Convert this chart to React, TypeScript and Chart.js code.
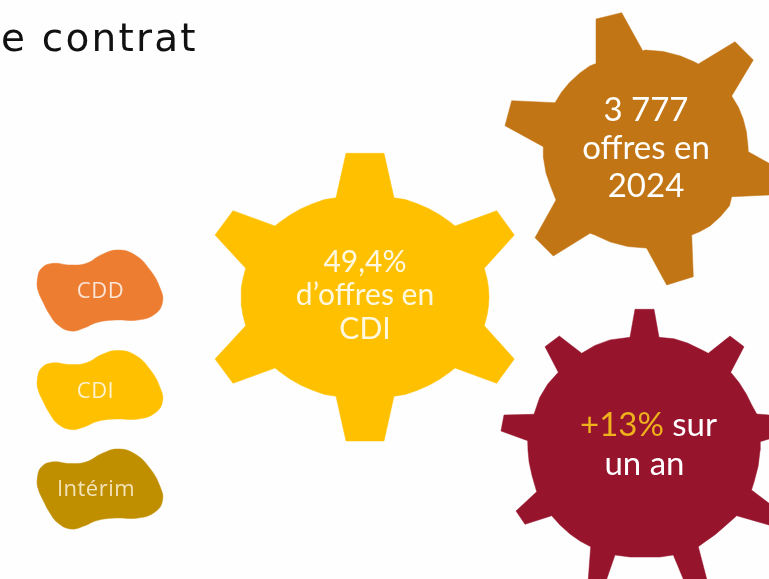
import React, { useEffect, useRef } from "react";
import { Chart, registerables } from "chart.js";

Chart.register(...registerables);

const WIDTH = 769;
const HEIGHT = 579;

type P = [number, number];

const yellowGear: P[] = [
  [346, 153.3], [384, 153.3], [394, 197.8], [405.4, 199.6], [417.4, 203.7], [428.9, 208.7], [439.6, 214.7], [449.6, 221.7], [455, 226],
  [496.7, 210.7], [514.3, 235], [484.3, 268.3], [487.1, 279.1], [488.5, 288], [489, 297], [488.5, 306], [487.1, 314.9], [484.3, 325.7],
  [514.3, 359], [496.7, 383.3], [455, 368], [449.6, 372.3], [439.6, 379.3], [428.9, 385.3], [417.4, 390.3], [405.4, 394.4], [394, 396.2],
  [384, 441], [346, 441], [336, 396.2], [324.6, 394.4], [312.6, 390.3], [301.1, 385.3], [290.4, 379.3], [280.4, 372.3], [275, 368],
  [233, 383.3], [215, 359], [245.7, 325.7], [242.9, 314.9], [241.5, 306], [241, 297], [241.5, 288], [242.9, 279.1], [245.7, 268.3],
  [215, 235], [233, 210.7], [275, 226], [280.4, 221.7], [290.4, 214.7], [301.1, 208.7], [312.6, 203.7], [324.6, 199.6], [336, 197.8], [346, 153.3],
];

const brownGear: P[] = [
  [596, 19], [621.7, 12.7], [642.7, 50.7], [645.5, 50], [663.3, 51.5], [680.6, 56], [693.6, 61.6], [698.3, 64], [735, 41.7],
  [753.3, 60], [731.7, 96], [738.4, 107.2], [743, 118.4], [746.4, 131.8], [747.9, 145.5], [748.3, 151.7], [769, 163.3], [769, 195],
  [731.7, 196.7], [729.5, 205.8], [720.5, 216.5], [710, 226], [700, 231.5], [691.7, 235], [693.3, 276.7], [666.7, 285],
  [646.7, 248.3], [645.5, 248], [627.7, 246.5], [610.4, 242], [594.3, 234.7], [590, 233.3], [553.3, 256], [535, 237.7], [556, 200],
  [550.5, 186], [546, 173], [543.4, 157.6], [543.3, 146.7], [505, 125.7], [511.7, 100.7], [555, 102.7], [561.5, 92.2],
  [569.3, 82.8], [579.6, 73.2], [589.7, 66], [596.7, 63.3], [596, 19],
];

const crimsonGear: P[] = [
  [635, 309.3], [654, 309.3], [659, 337.3], [674, 338.8], [687.5, 343], [702, 350], [708.3, 353.3], [730, 336], [744, 346.7], [730.7, 372.3],
  [739, 382.5], [746.4, 394.2], [751.6, 404.7], [756.7, 414], [769, 415], [769, 439], [760, 441.7], [760, 450.4], [758.2, 465.9], [754.3, 481],
  [751.5, 490], [769, 503.3], [769, 525], [736.7, 515.7], [727.4, 524], [715.4, 534.4], [704, 542.5], [698.3, 546.7], [706.7, 579], [683.3, 579],
  [673.3, 555], [660, 557], [645.7, 557], [630, 557], [615, 555], [606.7, 579], [588.3, 579], [590.7, 546.7], [580, 541], [570, 534], [560, 525], [551.7, 515.7],
  [525, 524.3], [516, 511], [536.7, 491.7], [532, 475.4], [529.1, 462], [528, 450.4], [527.7, 440.7], [501, 431], [504, 415], [534, 414.3],
  [539.7, 397.6], [547.8, 384], [558.3, 372.3], [545, 346.7], [559.3, 336], [581.7, 353.3], [595, 345.4], [610, 339.9], [630, 337.3], [635, 309.3],
];

const cddBlob: P[] = [
  [37.5, 280], [41, 269], [52, 263.5], [70, 265], [86, 263.5], [102, 254.5], [118, 250], [135, 255], [150, 270], [160, 288], [162.5, 302],
  [155, 314], [138, 320], [115, 320], [97, 322.5], [84, 328], [71, 331], [58, 325], [50, 315], [43, 302], [38, 290],
];

const cdiBlob: P[] = [
  [37.5, 379.5], [41, 368.5], [52, 363], [70, 364.5], [86, 363], [102, 354.5], [118, 350.5], [135, 355], [150, 369.5], [160, 387.5], [162.5, 401.5],
  [155, 413], [138, 419], [115, 419], [97, 421.5], [84, 427], [71, 429.5], [58, 424], [50, 414], [43, 401], [38, 389],
];

const interimBlob: P[] = [
  [37.5, 478.5], [41, 467.5], [52, 462], [70, 463.5], [86, 462], [102, 453.5], [118, 449], [135, 454], [150, 468.5], [160, 486.5], [162.5, 500.5],
  [155, 512], [138, 518], [115, 518], [97, 520.5], [84, 526], [71, 529], [58, 523], [50, 513], [43, 500], [38, 488],
];

const legendNames = ["CDD", "CDI", "Intérim"];
const gearLabels = ["49,4%", "d’offres en", "CDI", "3 777", "offres en", "2024", "un an"];

const GOLD = "#FFC000";

type Label = { parts: [string, string][]; x: number; y: number; size: number; family: string; align: string; spacing?: number };
const CAL = "Lato";
const labels: Label[] = [
  { parts: [["e contrat", "#111111"]], x: 1, y: 51, size: 39, family: "DejaVu Sans", align: "left", spacing: 2.2 },
  { parts: [[legendNames[0], "#FBE5D6"]], x: 100.5, y: 298, size: 22, family: "Open Sans", align: "center", spacing: 0.5 },
  { parts: [[legendNames[1], "#FFF2CC"]], x: 95.5, y: 398, size: 22, family: "Open Sans", align: "center", spacing: 0.5 },
  { parts: [[legendNames[2], "#F3E3B8"]], x: 96, y: 496, size: 22, family: "Open Sans", align: "center", spacing: 0.5 },
  { parts: [[gearLabels[0], "#FFF8E0"]], x: 365, y: 272, size: 30, family: CAL, align: "center" },
  { parts: [[gearLabels[1], "#FFF8E0"]], x: 365, y: 305, size: 30, family: CAL, align: "center" },
  { parts: [[gearLabels[2], "#FFF8E0"]], x: 365, y: 339, size: 30, family: CAL, align: "center" },
  { parts: [[gearLabels[3], "#FFFFFF"]], x: 646, y: 121, size: 33, family: CAL, align: "center" },
  { parts: [[gearLabels[4], "#FFFFFF"]], x: 646, y: 159, size: 33, family: CAL, align: "center" },
  { parts: [[gearLabels[5], "#FFFFFF"]], x: 646, y: 197, size: 33, family: CAL, align: "center" },
  { parts: [["+13%", "#EDB21C"], [" sur", "#FFFFFF"]], x: 648.5, y: 436, size: 33, family: CAL, align: "center" },
  { parts: [[gearLabels[6], "#FFFFFF"]], x: 644.5, y: 475, size: 33, family: CAL, align: "center" },
];

const toPts = (a: P[]) => a.map(([x, y]) => ({ x, y }));
// Wrap a smooth outline over its own ends so the closing point gets a proper curve tangent.
const wrap = (a: P[]): P[] => [a[a.length - 1], ...a, a[0], a[1]];

const textPlugin = {
  id: "infoText",
  afterDatasetsDraw(chart: any) {
    const { ctx, scales } = chart;
    ctx.save();
    ctx.textBaseline = "alphabetic";
    for (const l of labels) {
      ctx.font = `${l.size}px "${l.family}"`;
      ctx.letterSpacing = `${l.spacing ?? 0}px`;
      const widths = l.parts.map((p) => ctx.measureText(p[0]).width);
      const total = widths.reduce((a: number, b: number) => a + b, 0);
      let x = scales.x.getPixelForValue(l.x);
      if (l.align === "center") x -= total / 2;
      const y = scales.y.getPixelForValue(l.y);
      ctx.textAlign = "left";
      l.parts.forEach((p, i) => {
        ctx.fillStyle = p[1];
        ctx.fillText(p[0], x, y);
        x += widths[i];
      });
    }
    ctx.restore();
  },
};

export default function App() {
  const ref = useRef<HTMLCanvasElement>(null);
  useEffect(() => {
    const shape = (label: string, pts: P[], color: string, tension = 0) => ({
      label,
      data: toPts(pts),
      showLine: true,
      fill: "shape",
      backgroundColor: color,
      borderColor: color,
      borderWidth: 0.5,
      pointRadius: 0,
      tension,
    });
    const chart = new Chart(ref.current as HTMLCanvasElement, {
      type: "scatter",
      data: {
        datasets: [
          shape("49,4% CDI", yellowGear, GOLD),
          shape("3 777 offres", brownGear, "#C27514"),
          shape("+13%", crimsonGear, "#96142C"),
          shape("CDD", wrap(cddBlob), "#ED7D31", 0.45),
          shape("CDI", wrap(cdiBlob), GOLD, 0.45),
          shape("Intérim", wrap(interimBlob), "#BF8F00", 0.45),
        ],
      } as any,
      options: {
        animation: false,
        responsive: false,
        layout: { padding: 0 },
        plugins: { legend: { display: false }, tooltip: { enabled: false } },
        scales: {
          x: { type: "linear", min: 0, max: WIDTH, display: false },
          y: { type: "linear", min: 0, max: HEIGHT, reverse: true, display: false },
        },
      } as any,
      plugins: [textPlugin],
    });
    return () => chart.destroy();
  }, []);
  return (
    <canvas
      ref={ref}
      width={WIDTH}
      height={HEIGHT}
      style={{ position: "fixed", left: 0, top: 0, display: "block", background: "#FEFEFE" }}
    />
  );
}
